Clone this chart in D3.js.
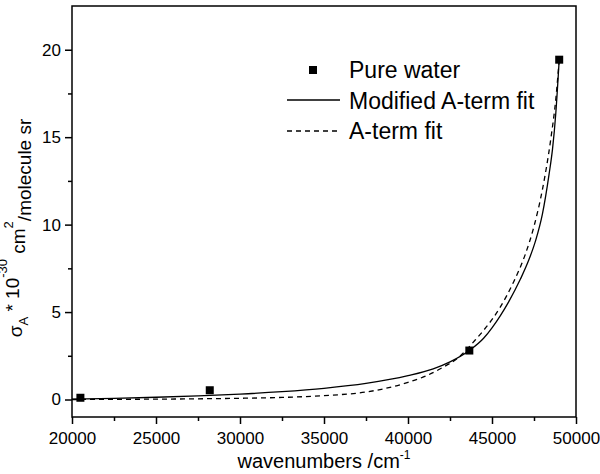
<!DOCTYPE html>
<html>
<head>
<meta charset="utf-8">
<script src="https://cdn.jsdelivr.net/npm/d3@7"></script>
<style>
  body { margin: 0; background: #fff; }
  svg text { font-family: Arial, "Liberation Sans", sans-serif; fill: #000; }
</style>
</head>
<body>
<svg id="chart" width="600" height="474"></svg>
<script>
// measured data (pure water)
var pointX = [20500, 28200, 43650, 49000];
var pointY = [0.1, 0.53, 2.8, 19.43];

// modified A-term fit
var modX = [20000, 22500, 25000, 27500, 30000, 32500, 35000, 37500, 40000, 41500, 42500,
            43650, 44500, 45000, 45500, 46000, 46700, 47200, 47600, 48000, 48400, 48600, 48800, 49000];
var modY = [0.02, 0.07, 0.13, 0.21, 0.31, 0.45, 0.64, 0.92, 1.36, 1.75, 2.15,
            2.8, 3.5, 4.1, 4.8, 5.6, 6.9, 8.0, 9.1, 10.6, 12.9, 14.3, 16.4, 19.43];

// A-term fit
var atX = [20000, 22500, 25000, 27500, 30000, 32500, 35000, 37500, 38500, 40000, 41000, 42000,
           43000, 44000, 44500, 45500, 46300, 47000, 47500, 48000, 48500, 48800, 49000];
var atY = [0.0, 0.01, 0.02, 0.04, 0.07, 0.12, 0.22, 0.43, 0.6, 0.98, 1.32, 1.8,
           2.4, 3.4, 3.95, 5.3, 6.75, 8.35, 9.9, 12.0, 14.9, 17.2, 19.43];

var xTicks = [20000, 25000, 30000, 35000, 40000, 45000, 50000];
var xMinor = [22500, 27500, 32500, 37500, 42500, 47500];
var yTicks = [0, 5, 10, 15, 20];
var yMinor = [2.5, 7.5, 12.5, 17.5];

var legendItems = ["Pure water", "Modified A-term fit", "A-term fit"];

var plotL = 72, plotR = 576, plotT = 6, plotB = 417;

var svg = d3.select("#chart");

var x = d3.scaleLinear().domain([20000, 50000]).range([plotL, plotR]);
var y = d3.scaleLinear().domain([-1, 22.5]).range([plotB, plotT]);

// axes
var xAxis = d3.axisBottom(x).tickValues(xTicks).tickSize(7).tickPadding(4).tickFormat(d3.format("d"));
var yAxis = d3.axisLeft(y).tickValues(yTicks).tickSize(7).tickPadding(4).tickFormat(d3.format("d"));

var gx = svg.append("g").attr("transform", "translate(0," + plotB + ")").call(xAxis);
var gy = svg.append("g").attr("transform", "translate(" + plotL + ",0)").call(yAxis);

svg.append("g").attr("transform", "translate(0," + plotB + ")")
  .call(d3.axisBottom(x).tickValues(xMinor).tickSize(4).tickFormat(""));
svg.append("g").attr("transform", "translate(" + plotL + ",0)")
  .call(d3.axisLeft(y).tickValues(yMinor).tickSize(4).tickFormat(""));

svg.selectAll(".tick line").attr("stroke", "#000").attr("stroke-width", 1.5);
svg.selectAll(".domain").remove();
gx.selectAll("text").attr("font-size", 17).attr("dy", "0.95em");
gy.selectAll("text").attr("font-size", 17);

// frame
svg.append("rect")
  .attr("x", plotL).attr("y", plotT)
  .attr("width", plotR - plotL).attr("height", plotB - plotT)
  .attr("fill", "none").attr("stroke", "#000").attr("stroke-width", 1.5);

// fits
var line = d3.line()
  .x(function(d) { return x(d[0]); })
  .y(function(d) { return y(d[1]); })
  .curve(d3.curveMonotoneX);

svg.append("path")
  .datum(d3.zip(modX, modY))
  .attr("d", line)
  .attr("fill", "none").attr("stroke", "#000").attr("stroke-width", 1.3);

svg.append("path")
  .datum(d3.zip(atX, atY))
  .attr("d", line)
  .attr("fill", "none").attr("stroke", "#000").attr("stroke-width", 1.3)
  .attr("stroke-dasharray", "5,4");

// points
svg.selectAll("rect.pt")
  .data(d3.zip(pointX, pointY))
  .enter().append("rect")
  .attr("class", "pt")
  .attr("x", function(d) { return x(d[0]) - 4; })
  .attr("y", function(d) { return y(d[1]) - 4; })
  .attr("width", 8).attr("height", 8)
  .attr("fill", "#000");

// legend
var lg = svg.append("g").attr("transform", "translate(287,70)");
lg.append("rect").attr("x", 22).attr("y", -4).attr("width", 8).attr("height", 8).attr("fill", "#000");
lg.append("line").attr("x1", 0).attr("x2", 53).attr("y1", 30).attr("y2", 30)
  .attr("stroke", "#000").attr("stroke-width", 1.3);
lg.append("line").attr("x1", 0).attr("x2", 53).attr("y1", 61).attr("y2", 61)
  .attr("stroke", "#000").attr("stroke-width", 1.3).attr("stroke-dasharray", "5,4");
lg.selectAll("text.lg")
  .data(legendItems)
  .enter().append("text")
  .attr("class", "lg")
  .attr("x", 62)
  .attr("y", function(d, i) { return i * 30.5 + 8; })
  .attr("font-size", 23)
  .text(function(d) { return d; });

// x title
var xt = svg.append("text")
  .attr("x", (plotL + plotR) / 2).attr("y", 468)
  .attr("text-anchor", "middle").attr("font-size", 20);
xt.append("tspan").text("wavenumbers /cm");
xt.append("tspan").attr("font-size", 12).attr("dy", "-0.75em").text("-1");

// y title
var yt = svg.append("text")
  .attr("transform", "translate(22,228) rotate(-90)")
  .attr("text-anchor", "middle").attr("font-size", 19);
yt.append("tspan").text("\u03c3");
yt.append("tspan").attr("font-size", 13).attr("dy", "0.45em").text("A");
yt.append("tspan").attr("dy", "-0.45em").text(" * 10");
yt.append("tspan").attr("font-size", 13).attr("dy", "-0.95em").text("-30");
yt.append("tspan").attr("dy", "0.95em").text(" cm");
yt.append("tspan").attr("font-size", 13).attr("dy", "-0.95em").text("2");
yt.append("tspan").attr("dy", "0.95em").text("/molecule sr");
</script>
</body>
</html>
